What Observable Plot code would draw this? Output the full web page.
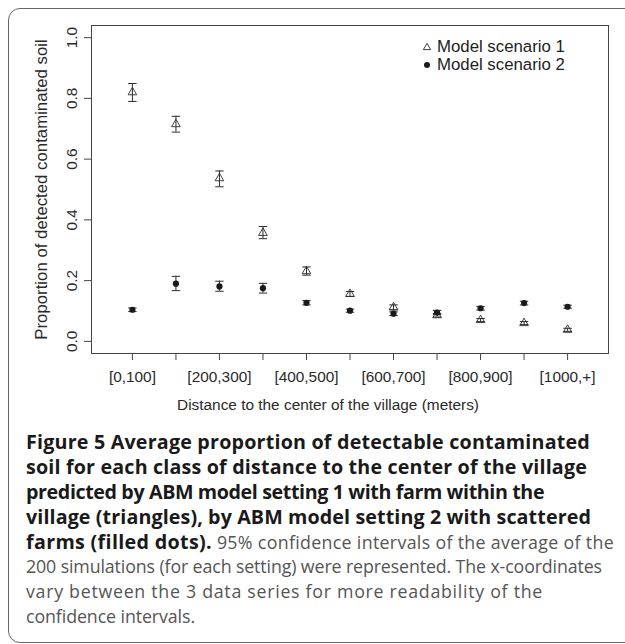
<!DOCTYPE html>
<html><head><meta charset="utf-8">
<script src="https://cdn.jsdelivr.net/npm/d3@7"></script>
<script src="https://cdn.jsdelivr.net/npm/@observablehq/plot@0.6"></script>
<style>
html,body{margin:0;padding:0;background:#fff;width:625px;height:644px;overflow:hidden;position:relative;}
#box{position:absolute;left:8px;top:8px;width:700px;height:635px;border:1.5px solid #666;border-radius:12px;box-sizing:border-box;}
#chart{position:absolute;left:0;top:0;}
#legend{position:absolute;left:421px;top:38px;font-family:"Liberation Sans",Arial,sans-serif;font-size:16.8px;line-height:18px;color:#222;}
#legend div{display:flex;align-items:center;white-space:nowrap;}
#legend svg{margin-right:4px;}
#caption{position:absolute;left:26px;top:429px;font-family:"Open Sans",sans-serif;white-space:nowrap;color:#555;}
#caption .ln{height:25px;line-height:25px;font-size:17.8px;}
#caption b{color:#1a1a1a;font-weight:700;font-size:19.7px;}
</style></head>
<body>
<div id="box"></div>
<div id="chart"></div>
<div id="legend"></div>
<div id="caption"></div>
<script>
const categories = ["[0,100]","[100,200]","[200,300]","[300,400]","[400,500]","[500,600]","[600,700]","[700,800]","[800,900]","[900,1000]","[1000,+]"];
const shownLabels = ["[0,100]","[200,300]","[400,500]","[600,700]","[800,900]","[1000,+]"];
const scenario1Mean = [0.820,0.715,0.537,0.357,0.231,0.156,0.112,0.086,0.070,0.060,0.038];
const scenario1Low  = [0.790,0.689,0.509,0.338,0.218,0.148,0.104,0.080,0.065,0.055,0.033];
const scenario1High = [0.849,0.741,0.561,0.378,0.245,0.164,0.120,0.092,0.075,0.065,0.043];
const scenario2Mean = [0.104,0.190,0.181,0.175,0.127,0.101,0.091,0.095,0.109,0.126,0.114];
const scenario2Low  = [0.098,0.167,0.165,0.159,0.120,0.096,0.085,0.088,0.103,0.120,0.109];
const scenario2High = [0.110,0.214,0.198,0.191,0.134,0.106,0.097,0.102,0.115,0.132,0.119];
const yTicks = [0, 0.2, 0.4, 0.6, 0.8, 1.0];
const seriesNames = ["Model scenario 1", "Model scenario 2"];
const xTitle = "Distance to the center of the village (meters)";
const yTitle = "Proportion of detected contaminated soil";

const xIdx = categories.map((c, i) => i + 1);
const rows1 = categories.map((c, i) => ({x: i + 1, cat: c, mean: scenario1Mean[i], lo: scenario1Low[i], hi: scenario1High[i]}));
const rows2 = categories.map((c, i) => ({x: i + 1, cat: c, mean: scenario2Mean[i], lo: scenario2Low[i], hi: scenario2High[i]}));

const cap = {draw(ctx, size) { const r = Math.sqrt(size / Math.PI); ctx.moveTo(-r, 0); ctx.lineTo(r, 0); }};
const ink = "#2a2a2a";

const chart = Plot.plot({
  width: 625, height: 420,
  marginLeft: 91, marginRight: 17, marginTop: 25, marginBottom: 67,
  x: {type: "linear", domain: [0.06, 11.94]},
  y: {domain: [-0.04, 1.04]},
  style: {fontFamily: '"Liberation Sans", Arial, sans-serif', fontSize: "15.4px", color: ink, background: "transparent"},
  marks: [
    Plot.frame({stroke: "#444"}),
    Plot.axisX({ticks: xIdx, tickFormat: i => shownLabels.includes(categories[i - 1]) ? categories[i - 1] : "", tickSize: 7, tickPadding: 11, label: null, stroke: "#444"}),
    Plot.axisY({ticks: yTicks, tickFormat: d3.format(".1f"), tickRotate: -90, tickSize: 7, tickPadding: 8, label: null, stroke: "#444"}),
    Plot.text([xTitle], {frameAnchor: "bottom", dx: -22, dy: 52, textAnchor: "middle", lineAnchor: "middle", text: d => d, fill: ink}),
    Plot.text([yTitle], {frameAnchor: "left", dx: -50, rotate: -90, textAnchor: "middle", lineAnchor: "middle", fontSize: 16.8, text: d => d, fill: ink}),
    Plot.ruleX(rows1, {x: "x", y1: "lo", y2: "hi", stroke: ink, strokeWidth: 1}),
    Plot.dot(rows1, {x: "x", y: "lo", symbol: cap, r: 4.2, stroke: ink, fill: "none", strokeWidth: 1}),
    Plot.dot(rows1, {x: "x", y: "hi", symbol: cap, r: 4.2, stroke: ink, fill: "none", strokeWidth: 1}),
    Plot.dot(rows1, {x: "x", y: "mean", symbol: "triangle", r: 3.2, stroke: ink, fill: "none", strokeWidth: 0.9}),
    Plot.ruleX(rows2, {x: "x", y1: "lo", y2: "hi", stroke: ink, strokeWidth: 1}),
    Plot.dot(rows2, {x: "x", y: "lo", symbol: cap, r: 4.2, stroke: ink, fill: "none", strokeWidth: 1}),
    Plot.dot(rows2, {x: "x", y: "hi", symbol: cap, r: 4.2, stroke: ink, fill: "none", strokeWidth: 1}),
    Plot.dot(rows2, {x: "x", y: "mean", r: 3.1, fill: "#1a1a1a", stroke: "none"})
  ]
});
document.getElementById("chart").appendChild(chart);

const legend = document.getElementById("legend");
legend.innerHTML =
  `<div><svg width="12" height="12" viewBox="-6 -6 12 12"><path d="M0,-3.6L3.6,2.6L-3.6,2.6Z" fill="none" stroke="${ink}" stroke-width="0.9"/></svg>${seriesNames[0]}</div>` +
  `<div><svg width="12" height="12" viewBox="-6 -6 12 12"><circle r="3" fill="#1a1a1a"/></svg>${seriesNames[1]}</div>`;

const captionLines = [
  ["Figure 5 Average proportion of detectable contaminated", ""],
  ["soil for each class of distance to the center of the village", ""],
  ["predicted by ABM model setting 1 with farm within the", ""],
  ["village (triangles), by ABM model setting 2 with scattered", ""],
  ["farms (filled dots).", " 95% confidence intervals of the average of the"],
  ["", "200 simulations (for each setting) were represented. The x-coordinates"],
  ["", "vary between the 3 data series for more readability of the"],
  ["", "confidence intervals."]
];
const captionEl = document.getElementById("caption");
captionEl.innerHTML = captionLines
  .map(([b, r]) => `<div class="ln"><span class="t">${b ? `<b>${b}</b>` : ""}${r}</span></div>`).join("");

// fit each caption line to the reference's ragged right edge via letter spacing
const lineEnds = [590, 587, 524, 591, 614, 602, 543, 195];
captionEl.querySelectorAll(".t").forEach((t, i) => {
  const right = t.getBoundingClientRect().right;
  const n = t.textContent.length;
  const ls = Math.max(-0.4, Math.min(0.8, (lineEnds[i] - right) / n));
  t.style.letterSpacing = ls.toFixed(3) + "px";
});
</script>
</body></html>
